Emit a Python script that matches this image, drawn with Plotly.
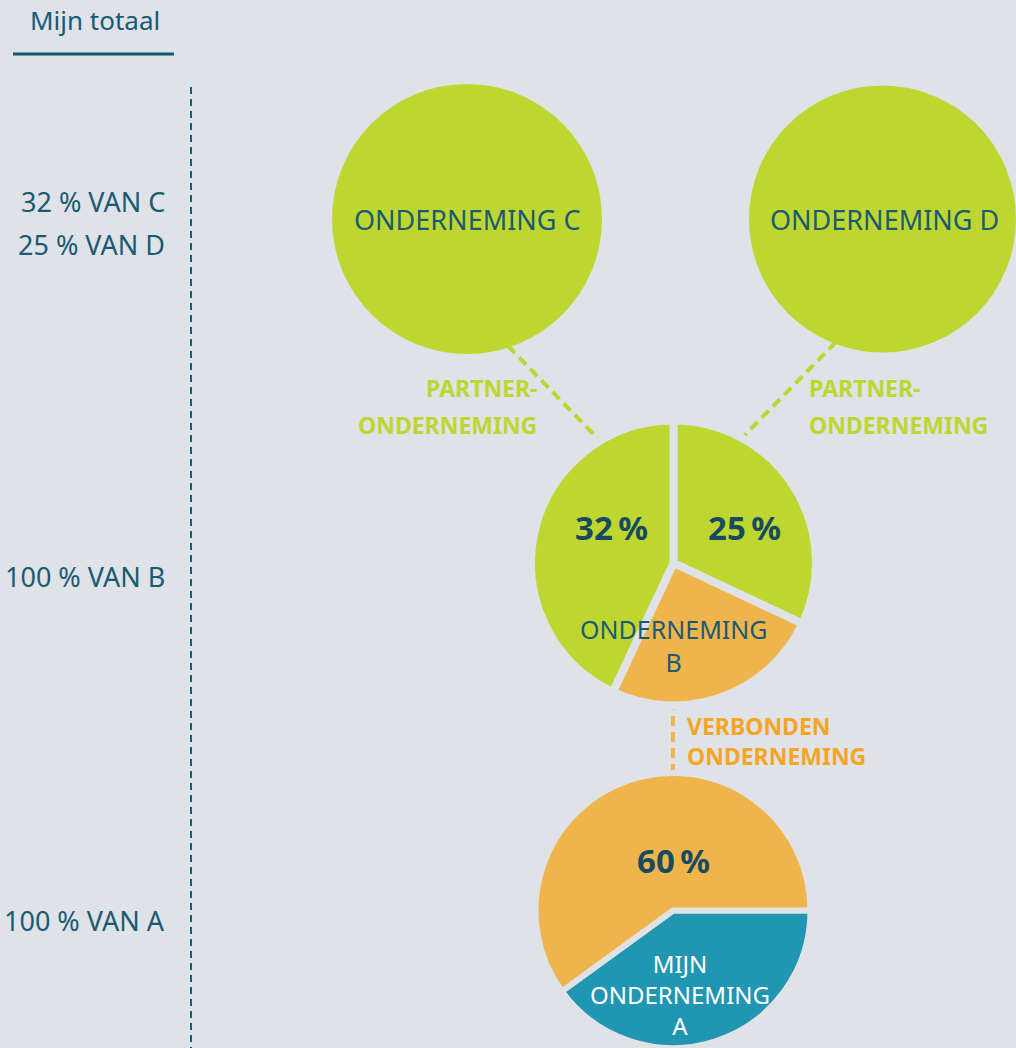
import plotly.graph_objects as go

W, H = 1016, 1048
BG = "#dfe2e6"
GREEN = "#bed730"
ORANGE = "#f0b44c"
TEAL = "#2196b2"
DARK = "#1b5a73"
DARKB = "#174c60"
GREEN_TXT = "#bdd631"
ORANGE_TXT = "#f5a524"
FONT = "Noto Sans"

# ---------------- data ----------------
totals_labels = ["32 % VAN C", "25 % VAN D", "100 % VAN B", "100 % VAN A"]
c_labels = ["ONDERNEMING C"]
c_values = [100]
d_labels = ["ONDERNEMING D"]
d_values = [100]
b_labels = ["Partner D", "Verbonden A", "Partner C"]
b_values = [32, 25, 43]          # visual slice sizes of pie B
b_share_labels = ["32\u2009%", "25\u2009%"]
a_labels = ["Mijn onderneming A", "Onderneming B"]
a_values = [40, 60]              # visual slice sizes of pie A
a_share_label = "60\u2009%"


def px(x):
    return x / W


def py(y):
    return 1 - y / H


def dom(cx, cy, r):
    x0, x1 = max(0, (cx - r) / W), min(1, (cx + r) / W)
    y0, y1 = max(0, 1 - (cy + r) / H), min(1, 1 - (cy - r) / H)
    return dict(x=[x0, x1], y=[y0, y1])


fig = go.Figure()

fig.add_trace(go.Pie(labels=c_labels, values=c_values, domain=dom(467, 219, 135),
                     marker=dict(colors=[GREEN], line=dict(width=0)),
                     textinfo="none", hoverinfo="skip", sort=False))
fig.add_trace(go.Pie(labels=d_labels, values=d_values, domain=dom(883, 219, 134),
                     marker=dict(colors=[GREEN], line=dict(width=0)),
                     textinfo="none", hoverinfo="skip", sort=False))
fig.add_trace(go.Pie(labels=b_labels, values=b_values, domain=dom(673.5, 563, 142.5),
                     marker=dict(colors=[GREEN, ORANGE, GREEN], line=dict(width=8, color=BG)),
                     textinfo="none", hoverinfo="skip", sort=False,
                     direction="clockwise", rotation=0))
fig.add_trace(go.Pie(labels=a_labels, values=a_values, domain=dom(673, 911, 138),
                     marker=dict(colors=[TEAL, ORANGE], line=dict(width=6, color=BG)),
                     textinfo="none", hoverinfo="skip", sort=False,
                     direction="clockwise", rotation=90))

shapes = [
    dict(type="line", xref="paper", yref="paper", x0=px(13), x1=px(174), y0=py(54), y1=py(54),
         line=dict(color="#0f5873", width=3)),
    dict(type="line", xref="paper", yref="paper", x0=px(191), x1=px(191), y0=py(87), y1=py(1048),
         line=dict(color=DARK, width=2, dash="7px,5px")),
    dict(type="line", xref="paper", yref="paper", x0=px(508), x1=px(606), y0=py(346), y1=py(447),
         line=dict(color=GREEN, width=4, dash="10px,6px"), layer="below"),
    dict(type="line", xref="paper", yref="paper", x0=px(836), x1=px(735), y0=py(342), y1=py(445),
         line=dict(color=GREEN, width=4, dash="10px,6px"), layer="below"),
    dict(type="line", xref="paper", yref="paper", x0=px(673), x1=px(673), y0=py(700), y1=py(780),
         line=dict(color=ORANGE, width=4, dash="10px,6px"), layer="below"),
]

ann = []


def text(x, y, s, size, color, bold=False, anchor="center", align="center"):
    ann.append(dict(x=px(x), y=py(y), xref="paper", yref="paper", text=s, showarrow=False,
                    xanchor=anchor, yanchor="middle", align=align,
                    font=dict(family=FONT, size=size, color=color,
                              weight=700 if bold else 400)))


text(95, 20, "Mijn totaal", 26, "#155b78")
total_y = [202, 244, 576, 920]
for lab, yy in zip(totals_labels, total_y):
    text(167, yy, lab, 27, DARK, anchor="right")

text(467, 220, c_labels[0], 27, DARK)
text(884, 220, d_labels[0], 27, DARK)

text(539, 388, "PARTNER-", 23, GREEN_TXT, True, "right")
text(539, 425, "ONDERNEMING", 23, GREEN_TXT, True, "right")
text(807, 388, "PARTNER-", 23, GREEN_TXT, True, "left")
text(807, 425, "ONDERNEMING", 23, GREEN_TXT, True, "left")

text(611, 527, b_share_labels[0], 33, DARKB, True)
text(744, 527, b_share_labels[1], 33, DARKB, True)
text(673, 645, "ONDERNEMING<br>B", 25, DARK)

text(685, 741, "VERBONDEN<br>ONDERNEMING", 23, ORANGE_TXT, True, "left", "left")

text(673, 860, a_share_label, 33, DARKB, True)
text(680, 994, "MIJN<br>ONDERNEMING<br>A", 24, "white")

fig.update_layout(width=W, height=H, margin=dict(l=0, r=0, t=0, b=0),
                  paper_bgcolor=BG, plot_bgcolor=BG, showlegend=False,
                  shapes=shapes, annotations=ann, hovermode=False)

fig.write_html("out.html", config={"displayModeBar": False},
               post_script="document.body.style.margin='0';document.body.style.overflow='hidden';")
